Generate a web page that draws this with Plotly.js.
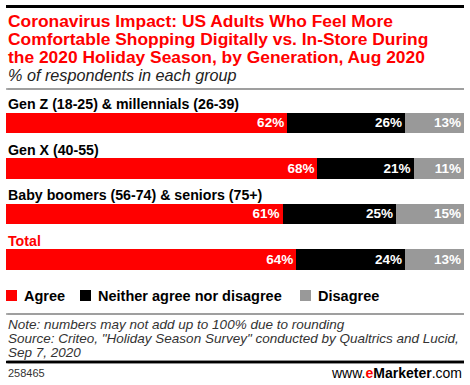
<!DOCTYPE html>
<html><head><meta charset="utf-8">
<script src="https://cdn.plot.ly/plotly-3.0.1.min.js"></script>
<style>html,body{margin:0;padding:0;background:#fff}#c{width:470px;height:385px}</style>
</head><body><div id="c"></div>
<script>
const categories = ["Gen Z (18-25) & millennials (26-39)", "Gen X (40-55)", "Baby boomers (56-74) & seniors (75+)", "Total"];
const seriesNames = ["Agree", "Neither agree nor disagree", "Disagree"];
const agree = [62, 68, 61, 64];
const neither = [26, 21, 25, 24];
const disagree = [13, 11, 15, 13];
const colors = ["#ff0000", "#000000", "#999999"];
const titleLines = ["Coronavirus Impact: US Adults Who Feel More", "Comfortable Shopping Digitally vs. In-Store During", "the 2020 Holiday Season, by Generation, Aug 2020"];
const subtitle = "% of respondents in each group";
const noteLines = ["Note: numbers may not add up to 100% due to rounding", "Source: Criteo, \"Holiday Season Survey\" conducted by Qualtrics and Lucid,", "Sep 7, 2020"];

const FONT = "Liberation Sans, Arial, sans-serif";
const PW = 470, PH = 385;
const px = x => x / PW;
const py = y => 1 - y / PH;

const series = [agree, neither, disagree];
const traces = series.map((vals, i) => ({
  type: "bar", orientation: "h", name: seriesNames[i],
  y: categories, x: vals,
  marker: {color: colors[i], line: {width: 0}},
  text: vals.map(v => v + "%"), textposition: "inside", insidetextanchor: "end",
  textangle: 0, constraintext: "none",
  insidetextfont: {family: FONT, size: 13.5, color: "#ffffff", weight: "bold"},
  hoverinfo: "none", showlegend: false
}));

const annotations = [];
const shapes = [];
categories.forEach((c, i) => {
  annotations.push({xref: "paper", yref: "y", x: px(6), y: c, yshift: 18.5, xanchor: "left", yanchor: "middle",
    text: "<b>" + c + "</b>", showarrow: false,
    font: {family: FONT, size: 14.2, color: i === categories.length - 1 ? "#ff0000" : "#000000"}});
});
titleLines.forEach((t, i) => {
  annotations.push({xref: "paper", yref: "paper", x: px(6), y: py(21 + i * 18), xanchor: "left", yanchor: "middle",
    text: "<b>" + t + "</b>", showarrow: false, font: {family: FONT, size: 17.4, color: "#ff0000"}});
});
annotations.push({xref: "paper", yref: "paper", x: px(6), y: py(75), xanchor: "left", yanchor: "middle",
  text: "<i>" + subtitle + "</i>", showarrow: false, font: {family: FONT, size: 16.2, color: "#222222"}});
noteLines.forEach((t, i) => {
  annotations.push({xref: "paper", yref: "paper", x: px(6), y: py(324.5 + i * 14.2), xanchor: "left", yanchor: "middle",
    text: "<i>" + t + "</i>", showarrow: false, font: {family: FONT, size: 13.5, color: "#333333"}});
});
annotations.push({xref: "paper", yref: "paper", x: px(6), y: py(373), xanchor: "left", yanchor: "middle",
  text: "258465", showarrow: false, font: {family: FONT, size: 11, color: "#333333"}});
annotations.push({xref: "paper", yref: "paper", x: px(464), y: py(373), xanchor: "right", yanchor: "middle",
  text: "www.<b><span style='color:#ff0000'>e</span>Marketer</b>.com", showarrow: false, font: {family: FONT, size: 14, color: "#000000"}});

const legendX = [6, 80, 300];
seriesNames.forEach((n, i) => {
  shapes.push({type: "rect", xref: "paper", yref: "paper", x0: px(legendX[i]), x1: px(legendX[i] + 11),
    y0: py(301), y1: py(290), line: {width: 0}, fillcolor: colors[i], layer: "above"});
  annotations.push({xref: "paper", yref: "paper", x: px(legendX[i] + 15.5), y: py(295.5), xanchor: "left", yanchor: "middle",
    text: "<b>" + n + "</b>", showarrow: false, font: {family: FONT, size: 14.5, color: "#000000"}});
});

// horizontal rules: drawn as shapes and, as a fallback, as plain annotation arrows at the same place
const rules = [[6.5, 3, "#000000"], [89, 1.5, "#999999"], [314, 1.5, "#999999"], [362, 2.5, "#000000"]];
rules.forEach(([y, w, c]) => {
  shapes.push({type: "rect", xref: "paper", yref: "paper", x0: px(6), x1: px(464), y0: py(y + w / 2), y1: py(y - w / 2),
    line: {width: 0}, fillcolor: c, layer: "above"});
  annotations.push({xref: "paper", yref: "paper", x: px(464), y: py(y), ax: -458, ay: 0, axref: "pixel", ayref: "pixel",
    text: "", showarrow: true, arrowhead: 0, arrowwidth: w, arrowcolor: c, standoff: 0, startstandoff: 0});
});

const layout = {
  width: PW, height: PH,
  margin: {l: 0, r: 0, t: 0, b: 0, pad: 0},
  paper_bgcolor: "#ffffff", plot_bgcolor: "#ffffff",
  barmode: "stack", barnorm: "percent", bargap: 0.553,
  showlegend: false,
  xaxis: {domain: [px(6), px(464)], range: [0, 100], visible: false, fixedrange: true},
  yaxis: {domain: [py(288), py(100)], autorange: "reversed", visible: false, fixedrange: true},
  annotations: annotations,
  shapes: shapes
};
Plotly.newPlot("c", traces, layout, {displayModeBar: false, staticPlot: true});
</script></body></html>
